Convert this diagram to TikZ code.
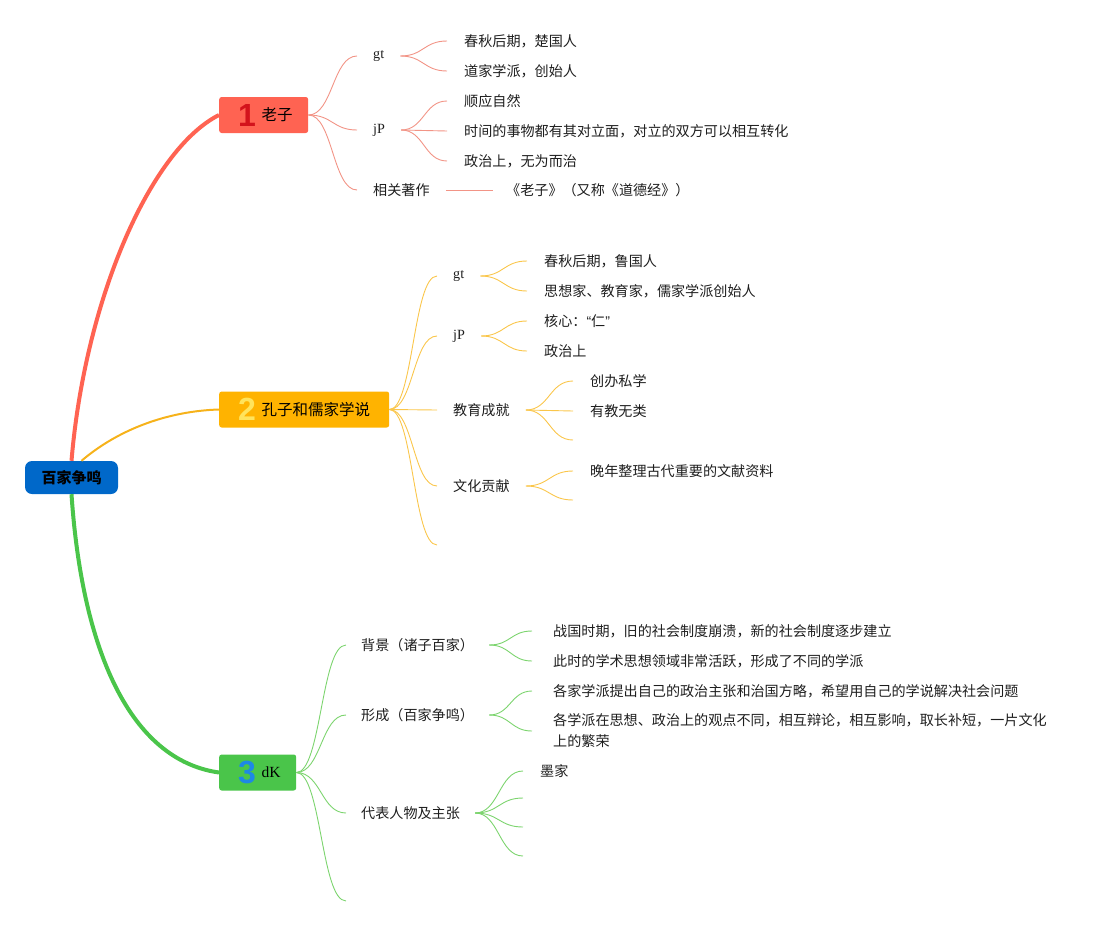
\documentclass[tikz,border=0pt]{standalone}
\usepackage{fontspec}
\setmainfont{Noto Sans CJK SC}
\newfontfamily\latinserif{Liberation Serif}
\newfontfamily\numfont{Liberation Sans}
\usetikzlibrary{calc}
\definecolor{rootblue}{HTML}{0068C9}
\definecolor{redbox}{HTML}{FF6352}
\definecolor{rednum}{HTML}{D3131C}
\definecolor{redthin}{HTML}{F29486}
\definecolor{orangebox}{HTML}{FFB300}
\definecolor{orangenum}{HTML}{FFE45C}
\definecolor{orangethin}{HTML}{FAC64B}
\definecolor{orangemain}{HTML}{F6B21A}
\definecolor{greenbox}{HTML}{4AC54A}
\definecolor{greennum}{HTML}{1E88E5}
\definecolor{greenthin}{HTML}{7CD46E}
\definecolor{textc}{HTML}{1E1E1E}
\newcommand\bignum[2]{{\numfont\bfseries\fontsize{32}{32}\selectfont\color{#1}#2}}
\newcommand\mmlink[3][]{\draw[#1] (#2) let \p1=(#2), \p2=(#3), \p3=($(\p1)!0.5!(\p2)$) in .. controls (\x3,\y1) and (\x3,\y2) .. (#3);}
\tikzset{
  rootbox/.style={fill=rootblue, rounded corners=7pt, minimum width=93pt, minimum height=33pt, inner sep=0pt, font=\fontsize{15}{18}\selectfont\bfseries, text=black},
  topicbox/.style={anchor=west, rounded corners=2.5pt, inner xsep=0pt, inner ysep=0pt, minimum height=36pt, align=left, font=\fontsize{15.5}{18}\selectfont, text=black},
  subnode/.style={anchor=west, inner xsep=16pt, inner ysep=2pt, font=\fontsize{14.1}{17}\selectfont, text=textc},
  leafnode/.style={anchor=west, inner xsep=17pt, inner ysep=2pt, align=left, font=\fontsize{14.1}{21}\selectfont, text=textc},
  rlink/.style={draw=redthin, line width=0.9pt},
  olink/.style={draw=orangethin, line width=0.9pt},
  glink/.style={draw=greenthin, line width=0.9pt},
}
\begin{document}
\begin{tikzpicture}[x=1pt,y=-1pt]
\useasboundingbox (0,0) rectangle (1113,926);

% root
\node[rootbox] (root) at (71.5,477.5) {百家争鸣};

% topic boxes
\node[topicbox, fill=redbox, text width=89pt] (lz) at (219,115) {\hspace*{19pt}\bignum{rednum}{1}\hspace{5.6pt}\raisebox{5.5pt}{老子}};
\node[topicbox, fill=orangebox, text width=170pt] (kz) at (219,409.5) {\hspace*{19pt}\bignum{orangenum}{2}\hspace{5.6pt}\raisebox{5.5pt}{孔子和儒家学说}};
\node[topicbox, fill=greenbox, text width=77pt] (dk) at (219,772.5) {\hspace*{19pt}\bignum{greennum}{3}\hspace{5.6pt}\raisebox{6.5pt}{\latinserif dK}};

% main connectors
\draw[redbox, line width=4pt] (root.north) .. controls (85,300) and (150,150) .. (lz.west);
\draw[orangemain, line width=2pt] ([xshift=10pt]root.north) .. controls (120,428) and (170,411) .. (kz.west);
\draw[greenbox, line width=4pt] (root.south) .. controls (82,650) and (130,760) .. (dk.west);

% ---------- Laozi ----------
\node[subnode] (lzgt) at (357,56) {\latinserif gt};
\node[subnode] (lzjp) at (357,130) {\latinserif jP};
\node[subnode] (lzzz) at (357,190) {相关著作};
\mmlink[rlink]{lz.east}{lzgt.west}
\mmlink[rlink]{lz.east}{lzjp.west}
\mmlink[rlink]{lz.east}{lzzz.west}

\node[leafnode] (lzgt1) at (447,41) {春秋后期，楚国人};
\node[leafnode] (lzgt2) at (447,71) {道家学派，创始人};
\node[leafnode] (lzjp1) at (447,101) {顺应自然};
\node[leafnode] (lzjp2) at (447,131) {时间的事物都有其对立面，对立的双方可以相互转化};
\node[leafnode] (lzjp3) at (447,161) {政治上，无为而治};
\node[leafnode, inner xsep=13pt] (lzzz1) at (493,190) {《老子》（又称《道德经》）};
\mmlink[rlink]{lzgt.east}{lzgt1.west}
\mmlink[rlink]{lzgt.east}{lzgt2.west}
\mmlink[rlink]{lzjp.east}{lzjp1.west}
\mmlink[rlink]{lzjp.east}{lzjp2.west}
\mmlink[rlink]{lzjp.east}{lzjp3.west}
\draw[rlink] (lzzz.east) -- (lzzz1.west);

% ---------- Kongzi ----------
\node[subnode] (kzgt) at (437,276) {\latinserif gt};
\node[subnode] (kzjp) at (437,336) {\latinserif jP};
\node[subnode] (kzjy) at (437,410) {教育成就};
\node[subnode] (kzwh) at (437,486) {文化贡献};
\coordinate (kze) at (437,545);
\mmlink[olink]{kz.east}{kzgt.west}
\mmlink[olink]{kz.east}{kzjp.west}
\mmlink[olink]{kz.east}{kzjy.west}
\mmlink[olink]{kz.east}{kzwh.west}
\mmlink[olink]{kz.east}{kze}

\node[leafnode] (kzgt1) at (527,261) {春秋后期，鲁国人};
\node[leafnode] (kzgt2) at (527,291) {思想家、教育家，儒家学派创始人};
\node[leafnode] (kzjp1) at (527,321) {核心：{\numfont “}仁{\numfont ”}};
\node[leafnode] (kzjp2) at (527,351) {政治上};
\node[leafnode] (kzjy1) at (573,381) {创办私学};
\node[leafnode] (kzjy2) at (573,411) {有教无类};
\coordinate (kzjy3) at (573,440);
\node[leafnode] (kzwh1) at (573,471) {晚年整理古代重要的文献资料};
\coordinate (kzwh2) at (573,500);
\mmlink[olink]{kzgt.east}{kzgt1.west}
\mmlink[olink]{kzgt.east}{kzgt2.west}
\mmlink[olink]{kzjp.east}{kzjp1.west}
\mmlink[olink]{kzjp.east}{kzjp2.west}
\mmlink[olink]{kzjy.east}{kzjy1.west}
\mmlink[olink]{kzjy.east}{kzjy2.west}
\mmlink[olink]{kzjy.east}{kzjy3}
\mmlink[olink]{kzwh.east}{kzwh1.west}
\mmlink[olink]{kzwh.east}{kzwh2}

% ---------- dK ----------
\node[subnode, inner xsep=15pt] (dkbj) at (346,645) {背景（诸子百家）};
\node[subnode, inner xsep=15pt] (dkxc) at (346,715) {形成（百家争鸣）};
\node[subnode, inner xsep=15pt] (dkdb) at (346,813) {代表人物及主张};
\coordinate (dke) at (346,901);
\mmlink[glink]{dk.east}{dkbj.west}
\mmlink[glink]{dk.east}{dkxc.west}
\mmlink[glink]{dk.east}{dkdb.west}
\mmlink[glink]{dk.east}{dke}

\node[leafnode, inner xsep=21pt] (dkbj1) at (532,631) {战国时期，旧的社会制度崩溃，新的社会制度逐步建立};
\node[leafnode, inner xsep=21pt] (dkbj2) at (532,661) {此时的学术思想领域非常活跃，形成了不同的学派};
\node[leafnode, inner xsep=21pt] (dkxc1) at (532,691) {各家学派提出自己的政治主张和治国方略，希望用自己的学说解决社会问题};
\node[leafnode, inner xsep=21pt] (dkxc2) at (532,731) {各学派在思想、政治上的观点不同，相互辩论，相互影响，取长补短，一片文化\\上的繁荣};
\node[leafnode] (dkdb1) at (523,771) {墨家};
\coordinate (dkdb2) at (523,798);
\coordinate (dkdb3) at (523,827);
\coordinate (dkdb4) at (523,856);
\mmlink[glink]{dkbj.east}{dkbj1.west}
\mmlink[glink]{dkbj.east}{dkbj2.west}
\mmlink[glink]{dkxc.east}{dkxc1.west}
\mmlink[glink]{dkxc.east}{dkxc2.west}
\mmlink[glink]{dkdb.east}{dkdb1.west}
\mmlink[glink]{dkdb.east}{dkdb2}
\mmlink[glink]{dkdb.east}{dkdb3}
\mmlink[glink]{dkdb.east}{dkdb4}
\end{tikzpicture}
\end{document}
